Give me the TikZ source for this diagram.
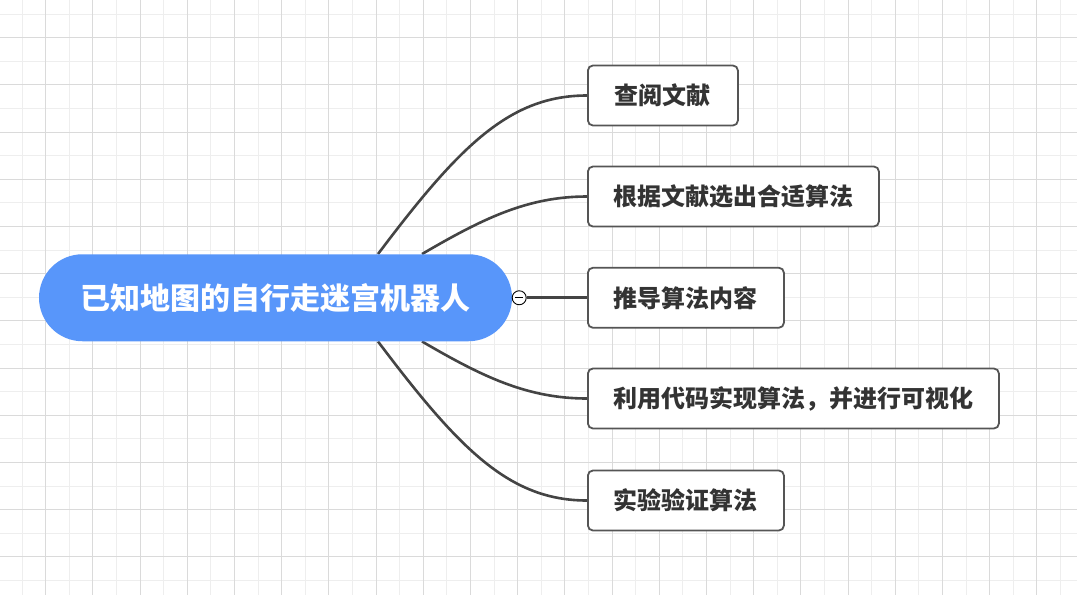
\documentclass[tikz,border=0pt]{standalone}
\usepackage{fontspec}
\newfontfamily\cjk{Noto Sans CJK SC}
\usetikzlibrary{calc}
\definecolor{gridlight}{RGB}{238,238,238}
\definecolor{griddark}{RGB}{218,218,218}
\definecolor{rootblue}{RGB}{88,150,250}
\definecolor{linecol}{RGB}{68,68,68}
\definecolor{boxborder}{RGB}{85,85,85}
\definecolor{txt}{RGB}{51,51,51}
\pgfdeclarelayer{gridlayer}
\pgfdeclarelayer{edgelayer}
\pgfsetlayers{gridlayer,edgelayer,main}
\tikzset{
  lightgrid/.style={draw=gridlight, line width=1pt},
  darkgrid/.style={draw=griddark, line width=1pt},
  rootnode/.style={fill=rootblue, rounded corners=43.5pt, minimum height=87pt, minimum width=473pt, inner sep=0pt, text=white, font=\cjk\bfseries\fontsize{30}{34}\selectfont},
  topicbox/.style={draw=boxborder, line width=1.8pt, fill=white, rounded corners=5pt, minimum height=60pt, inner sep=0pt, text=txt, font=\cjk\bfseries\fontsize{24}{28}\selectfont},
  conn/.style={draw=linecol, line width=2.6pt},
  btnstyle/.style={circle, draw=black, line width=0.9pt, fill=white, minimum size=14pt, inner sep=0pt}
}
\begin{document}
\begin{tikzpicture}[x=1pt,y=-1pt]
\useasboundingbox (0,0) rectangle (1077,595);
\begin{pgfonlayer}{gridlayer}
\fill[white] (0,0) rectangle (1077,595);
\foreach \i in {0,...,22} {
  \draw[lightgrid] ({22+47.2*\i},0) -- ({22+47.2*\i},595);
}
\foreach \i in {0,...,12} {
  \draw[lightgrid] (0,{14+47.2*\i}) -- (1077,{14+47.2*\i});
}
\foreach \i in {0,...,22} {
  \draw[darkgrid] ({45.6+47.2*\i},0) -- ({45.6+47.2*\i},595);
}
\foreach \i in {0,...,12} {
  \draw[darkgrid] (0,{37.6+47.2*\i}) -- (1077,{37.6+47.2*\i});
}
\end{pgfonlayer}
% nodes
\node[rootnode] (root) at (275.5,297.75) {已知地图的自行走迷宫机器人};
\node[topicbox, minimum width=150pt, anchor=west] (b1) at (587,95.5) {查阅文献};
\node[topicbox, minimum width=291pt, anchor=west] (b2) at (587,196.5) {根据文献选出合适算法};
\node[topicbox, minimum width=196pt, anchor=west] (b3) at (587,297.75) {推导算法内容};
\node[topicbox, minimum width=411pt, anchor=west] (b4) at (587,398.5) {利用代码实现算法，并进行可视化};
\node[topicbox, minimum width=196pt, anchor=west] (b5) at (587,500.5) {实验验证算法};
\node[btnstyle] (btn) at ([xshift=7pt]root.east) {};
\draw[black, line width=1pt] ([xshift=-4pt]btn.center) -- ([xshift=4pt]btn.center);
% connectors
\coordinate (r1) at ([xshift=102.5pt]root.north);
\coordinate (r2) at ([xshift=146.5pt]root.north);
\coordinate (r4) at ([xshift=146.5pt]root.south);
\coordinate (r5) at ([xshift=102.5pt]root.south);
\begin{pgfonlayer}{edgelayer}
\draw[conn] (r1) .. controls +(82,-109) and +(-77,0) .. (b1.west);
\draw[conn] (r2) .. controls +(60,-35) and +(-60,0) .. (b2.west);
\draw[conn] (r4) .. controls +(60,35) and +(-60,0) .. (b4.west);
\draw[conn] (r5) .. controls +(82,109) and +(-77,0) .. (b5.west);
\draw[conn] (root.east) -- (btn) -- (b3.west);
\end{pgfonlayer}
\end{tikzpicture}
\end{document}
